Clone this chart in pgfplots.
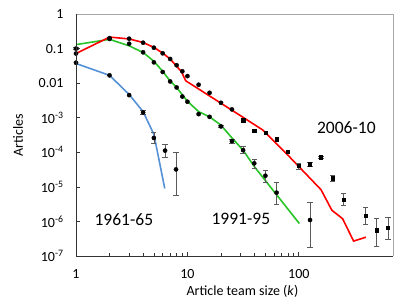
\documentclass[border=0pt]{standalone}
\usepackage{fontspec}
\setmainfont{Carlito}
\usepackage{pgfplots}
\pgfplotsset{compat=1.18}
\definecolor{cred}{RGB}{255,0,0}
\definecolor{cgreen}{RGB}{40,195,40}
\definecolor{cblue}{RGB}{85,145,215}
\definecolor{errc}{RGB}{90,90,90}
\begin{document}
\begin{tikzpicture}
\begin{axis}[name=ax, at={(0,0)}, anchor=south west,
  scale only axis, width=317bp, height=242bp,
  xmode=log, ymode=log, xmin=1, xmax=700, ymin=1e-7, ymax=1,
  axis line style={draw=none},
  tick pos=left, tick align=inside,
  major tick length=4bp, minor tick length=3bp,
  tick style={black!80, line width=0.7bp},
  yminorticks=false,
  xtick={1,10,100}, xticklabels={1,10,100},
  ytick={1e-7,1e-6,1e-5,1e-4,1e-3,1e-2,1e-1,1},
  yticklabels={10\textsuperscript{-7},10\textsuperscript{-6},10\textsuperscript{-5},10\textsuperscript{-4},10\textsuperscript{-3},0.01,0.1,1},
  ticklabel style={font=\fontsize{14bp}{16bp}\selectfont},
  yticklabel style={xshift=-9bp},
  xticklabel style={yshift=-10bp},
  xlabel={Article team size (\textit{k})},
  ylabel={Articles},
  every axis x label/.style={at={(axis description cs:0.525,-0.147)}, anchor=center, font=\fontsize{14bp}{16bp}\selectfont},
  every axis y label/.style={at={(axis description cs:-0.183,0.5)}, rotate=90, anchor=center, font=\fontsize{14bp}{16bp}\selectfont},
  clip=false,
  after end axis/.code={
    \draw[gray!70, line width=0.7bp] (rel axis cs:0,1) -- (rel axis cs:1,1) -- (rel axis cs:1,0);
    \draw[black!80, line width=1bp] (rel axis cs:0,1) -- (rel axis cs:0,0) -- (rel axis cs:1,0);
  },
]
% model lines
\addplot[cblue, line width=1.6bp, no marks] coordinates {
 (1,0.037) (2,0.0168) (3,0.0047) (4,0.0015) (5,3.3e-4) (6.26,9e-6)};
\addplot[cgreen, line width=1.6bp, no marks] coordinates {
 (1,0.13) (2,0.185) (3,0.12) (4,0.077) (5,0.043) (6,0.022) (7,0.0115) (8,0.0075)
 (9,0.0046) (10,0.003) (12.6,0.0015) (15.8,0.00106) (20,6.1e-4) (25.1,2.6e-4)
 (31.6,1.15e-4) (40,3.8e-5) (101,8.7e-7)};
\addplot[cred, line width=1.6bp, no marks] coordinates {
 (1,0.072) (2,0.215) (3,0.19) (4,0.15) (5,0.108) (6,0.074) (7,0.05) (8.84,0.0214)
 (9.66,0.0117) (29.4,1.19e-3) (47.5,4.4e-4) (82.4,7.4e-5) (158,8.3e-6) (198,2.1e-6)
 (247,1.2e-6) (310,2.7e-7) (400,3.5e-7)};
% 1961-65 data
\addplot[only marks, mark=*, mark size=2.1bp, black] coordinates {
 (1,0.039) (2,0.0168) (3,0.0045)};
\addplot[only marks, mark=*, mark size=2.1bp, black,
  error bars/.cd, y dir=both, y explicit,
  error bar style={errc, line width=0.7bp},
  error mark options={rotate=90, mark size=2.6bp, errc, line width=0.7bp}] coordinates {
 (4,0.00142) +=(0,0.00025) -=(0,0.0002)
 (5,2.6e-4) +=(0,1.3e-4) -=(0,0.8e-4)
 (6.3,1.12e-4) +=(0,0.58e-4) -=(0,0.41e-4)
 (7.9,3.2e-5) +=(0,6.8e-5) -=(0,2.65e-5)};
% 1991-95 data
\addplot[only marks, mark=*, mark size=2.1bp, black] coordinates {
 (2,0.19) (3,0.138) (4,0.078) (5,0.04) (6,0.021) (7,0.0112) (8,0.0075) (9,0.0041)
 (10,0.0029) (12.6,0.00127) (15.8,0.00106)};
\addplot[only marks, mark=*, mark size=2.1bp, black,
  error bars/.cd, y dir=both, y explicit,
  error bar style={errc, line width=0.7bp},
  error mark options={rotate=90, mark size=2.6bp, errc, line width=0.7bp}] coordinates {
 (1,0.1) +=(0,0.008) -=(0,0.008)
 (20,5.6e-4) +=(0,0.5e-4) -=(0,0.5e-4)
 (25.1,2.1e-4) +=(0,0.25e-4) -=(0,0.25e-4)
 (31.6,1.15e-4) +=(0,0.29e-4) -=(0,0.23e-4)
 (39.8,4.8e-5) +=(0,1.5e-5) -=(0,1.4e-5)
 (50.1,2.1e-5) +=(0,1.0e-5) -=(0,0.74e-5)
 (63.1,6.8e-6) +=(0,6.8e-6) -=(0,3.7e-6)
 (126,1.1e-6) +=(0,2.4e-6) -=(0,0.92e-6)};
% 2006-10 data
\addplot[only marks, mark=*, mark size=2.1bp, black] coordinates {
 (1,0.072) (2,0.2) (3,0.193) (4,0.148) (5,0.106) (6,0.073) (7,0.05) (8,0.033)
 (9,0.022) (10,0.016) (12.6,0.009) (15.8,0.00526) (20,0.0027) (25.1,0.00174)};
\addplot[only marks, mark=square*, mark size=1.6bp, black] coordinates {
 (31.6,8.5e-4) (39.8,4.2e-4) (50.1,3.65e-4) (63.1,2.4e-4) (79.4,1.03e-4)};
\addplot[only marks, mark=square*, mark size=1.6bp, black,
  error bars/.cd, y dir=both, y explicit,
  error bar style={errc, line width=0.7bp},
  error mark options={rotate=90, mark size=2.6bp, errc, line width=0.7bp}] coordinates {
 (100,4e-5) +=(0,0.7e-5) -=(0,0.8e-5)
 (126,4.5e-5) +=(0,0.6e-5) -=(0,0.7e-5)
 (158,7.2e-5) +=(0,0.5e-5) -=(0,0.5e-5)
 (200,1.78e-5) +=(0,0.39e-5) -=(0,0.3e-5)
 (251,4.3e-6) +=(0,2.4e-6) -=(0,1.4e-6)
 (398,1.44e-6) +=(0,1.06e-6) -=(0,0.61e-6)
 (501,5.6e-7) +=(0,0.7e-6) -=(0,0.37e-6)
 (631,6.6e-7) +=(0,0.64e-6) -=(0,0.36e-6)};
% labels
\node[font=\fontsize{17.5bp}{20bp}\selectfont] at (axis cs:2.69,1.16e-6) {1961-65};
\node[font=\fontsize{17.5bp}{20bp}\selectfont] at (axis cs:30.2,1.16e-6) {1991-95};
\node[font=\fontsize{17.5bp}{20bp}\selectfont] at (axis cs:267,5e-4) {2006-10};
\end{axis}
\pgfresetboundingbox
\path (ax.south west) ++(-76bp,-52bp) rectangle ++(416bp,308bp);
\end{tikzpicture}
\end{document}
